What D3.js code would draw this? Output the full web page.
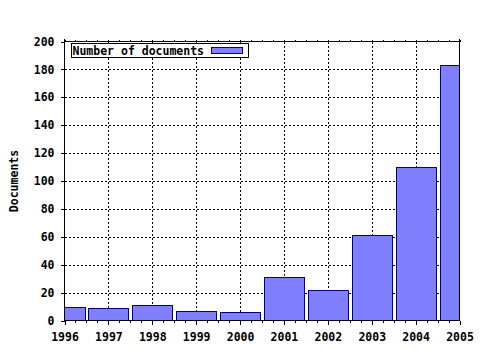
<!DOCTYPE html>
<html>
<head>
<meta charset="utf-8">
<script src="https://cdn.jsdelivr.net/npm/d3@7"></script>
<style>
  body { margin: 0; background: #fff; }
  text { font-family: "DejaVu Sans Mono", monospace; font-weight: bold; font-size: 11.5px; fill: #000; }
</style>
</head>
<body>
<div id="chart"></div>
<script>
var years = [1996, 1997, 1998, 1999, 2000, 2001, 2002, 2003, 2004, 2005];
var documents = [10, 9, 11, 7, 6, 31, 22, 61, 110, 183];
var yTicks = [0, 20, 40, 60, 80, 100, 120, 140, 160, 180, 200];
var seriesName = "Number of documents";
var yTitle = "Documents";

var svgWidth = 480;
var svgHeight = 350;

var plot = { left: 64.5, right: 459.5, top: 41.5, bottom: 320.5 };

var svg = d3.select("#chart")
  .append("svg")
  .attr("width", svgWidth)
  .attr("height", svgHeight);

var xScale = d3.scaleLinear()
  .domain([years[0], years[years.length - 1]])
  .range([plot.left, plot.right]);

var yScale = d3.scaleLinear()
  .domain([0, 200])
  .range([plot.bottom, plot.top]);

var step = xScale(years[1]) - xScale(years[0]);
var barWidth = step * 0.91;

svg.append("clipPath")
  .attr("id", "plotclip")
  .append("rect")
  .attr("x", plot.left)
  .attr("y", plot.top)
  .attr("width", plot.right - plot.left)
  .attr("height", plot.bottom - plot.top);

// grid
var grid = svg.append("g")
  .attr("stroke", "#000")
  .attr("stroke-width", 1)
  .attr("stroke-dasharray", "2,2")
  .attr("shape-rendering", "crispEdges");

grid.selectAll(".hgrid")
  .data(yTicks.slice(1, -1))
  .enter()
  .append("line")
  .attr("x1", plot.left)
  .attr("x2", plot.right)
  .attr("y1", d => Math.round(yScale(d)) + 0.5)
  .attr("y2", d => Math.round(yScale(d)) + 0.5);

grid.selectAll(".vgrid")
  .data(years.slice(1, -1))
  .enter()
  .append("line")
  .attr("y1", plot.top)
  .attr("y2", plot.bottom)
  .attr("x1", d => Math.round(xScale(d)) + 0.5)
  .attr("x2", d => Math.round(xScale(d)) + 0.5);

// bars
svg.append("g")
  .attr("clip-path", "url(#plotclip)")
  .selectAll("rect")
  .data(years)
  .enter()
  .append("rect")
  .attr("x", d => Math.round(xScale(d) - barWidth / 2) + 0.5)
  .attr("width", Math.round(barWidth))
  .attr("y", (d, i) => Math.round(yScale(documents[i])) + 0.5)
  .attr("height", (d, i) => Math.round(yScale(0)) - Math.round(yScale(documents[i])))
  .attr("fill", "#8080ff")
  .attr("stroke", "#000080")
  .attr("stroke-width", 1);

// axes
var xAxis = d3.axisBottom(xScale)
  .tickValues(years)
  .tickFormat(d3.format("d"))
  .tickSize(4)
  .tickPadding(8);

var xAxisG = svg.append("g")
  .attr("transform", `translate(0, ${plot.bottom})`)
  .call(xAxis);
xAxisG.select(".domain").remove();

var minorX = [];
years.slice(0, -1).forEach(function(y) {
  [0.25, 0.5, 0.75].forEach(function(f) { minorX.push(y + f); });
});

svg.append("g")
  .attr("stroke", "#000")
  .attr("shape-rendering", "crispEdges")
  .selectAll("line")
  .data(minorX)
  .enter()
  .append("line")
  .attr("x1", d => Math.round(xScale(d)) + 0.5)
  .attr("x2", d => Math.round(xScale(d)) + 0.5)
  .attr("y1", plot.bottom)
  .attr("y2", plot.bottom + 2);

// top ticks
svg.append("g")
  .attr("stroke", "#000")
  .attr("shape-rendering", "crispEdges")
  .selectAll("line")
  .data(years.concat(minorX))
  .enter()
  .append("line")
  .attr("x1", d => Math.round(xScale(d)) + 0.5)
  .attr("x2", d => Math.round(xScale(d)) + 0.5)
  .attr("y1", plot.top)
  .attr("y2", plot.top - 2);

var yAxis = d3.axisLeft(yScale)
  .tickValues(yTicks)
  .tickSize(4)
  .tickPadding(6);

var yAxisG = svg.append("g")
  .attr("transform", `translate(${plot.left}, 0)`)
  .call(yAxis);
yAxisG.select(".domain").remove();

svg.selectAll(".tick line")
  .attr("shape-rendering", "crispEdges");
svg.selectAll(".tick text")
  .attr("font-family", null)
  .attr("font-size", null);

// frame
var frame = svg.append("g")
  .attr("stroke", "#000")
  .attr("stroke-width", 1)
  .attr("shape-rendering", "crispEdges");
frame.append("line").attr("x1", plot.left).attr("x2", plot.left).attr("y1", plot.top - 3).attr("y2", plot.bottom);
frame.append("line").attr("x1", plot.right).attr("x2", plot.right).attr("y1", plot.top - 3).attr("y2", plot.bottom);
frame.append("line").attr("x1", plot.left).attr("x2", plot.right).attr("y1", plot.top).attr("y2", plot.top);
frame.append("line").attr("x1", plot.left).attr("x2", plot.right).attr("y1", plot.bottom).attr("y2", plot.bottom);

// y title
svg.append("text")
  .attr("transform", `translate(18, ${(plot.top + plot.bottom) / 2}) rotate(-90)`)
  .attr("text-anchor", "middle")
  .text(yTitle);

// legend
var legend = svg.append("g")
  .attr("transform", "translate(71.5, 43.5)");
legend.append("rect")
  .attr("width", 177)
  .attr("height", 14)
  .attr("fill", "#fff")
  .attr("stroke", "#000")
  .attr("stroke-width", 1);
legend.append("text")
  .attr("x", 1)
  .attr("y", 11)
  .text(seriesName);
legend.append("rect")
  .attr("x", 140)
  .attr("y", 4)
  .attr("width", 31)
  .attr("height", 6)
  .attr("fill", "#8080ff")
  .attr("stroke", "#000080");
</script>
</body>
</html>
